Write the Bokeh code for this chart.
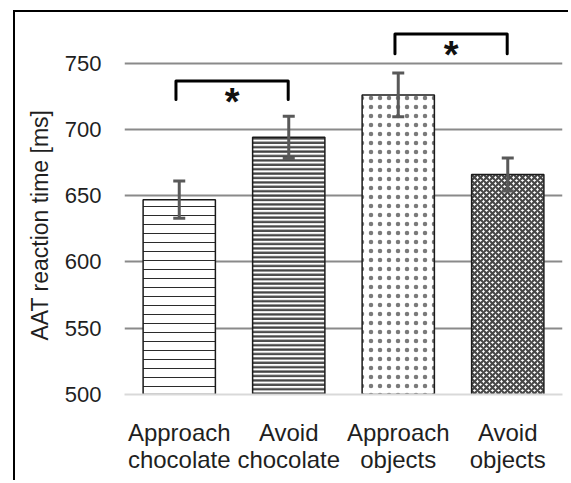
from bokeh.plotting import figure
from bokeh.models import (Range1d, FixedTicker, Whisker, TeeHead, ColumnDataSource, Title)
from bokeh.core.properties import value
from bokeh.embed import file_html
from bokeh.resources import INLINE

# ---------------- data ----------------
categories = ["Approach\nchocolate", "Avoid\nchocolate", "Approach\nobjects", "Avoid\nobjects"]
means = [647, 694, 726, 666]
errors = [14, 16, 16.5, 12.5]
y_ticks = [500, 550, 600, 650, 700, 750]
y_label = "AAT reaction time [ms]"
bracket_from = [0, 2]
bracket_to = [1, 3]
bracket_top = [736.5, 772]
bracket_bottom = [722.5, 757]
bracket_text = ["*", "*"]

FONT = "Liberation Sans"
TXT = "#1f1f1f"

bar_styles = [
    dict(hatch_pattern="horizontal_line", hatch_scale=9, hatch_weight=1, hatch_color="#2b2b2b"),
    dict(hatch_pattern="horizontal_line", hatch_scale=4.4, hatch_weight=2.3, hatch_color="#444444"),
    dict(hatch_pattern="dot", hatch_scale=9, hatch_weight=0.5, hatch_color="#7a7a7a"),
    dict(hatch_pattern="diagonal_cross", hatch_scale=6, hatch_weight=2.2, hatch_color="#474747"),
]

# ---------------- figure ----------------
# the figure's host element carries the chart-area border (left/top), canvas starts at (15, 12)
p = figure(width=555, height=470,
           x_range=Range1d(0.5, len(categories) + 0.5),
           y_range=Range1d(500, 786.7),
           output_backend="svg", toolbar_location=None,
           min_border_left=109, min_border_right=8, min_border_top=2, min_border_bottom=88)
p.styles = {"margin-left": "13px", "margin-top": "10px",
            "border-left": "2px solid #000000", "border-top": "2px solid #000000"}
p.outline_line_color = None
p.background_fill_color = "white"
p.border_fill_color = "white"

p.xgrid.visible = False
p.ygrid.ticker = FixedTicker(ticks=y_ticks[1:])
p.ygrid.grid_line_color = "#8a8a8a"
p.ygrid.grid_line_width = 2

p.yaxis.ticker = FixedTicker(ticks=y_ticks)
p.yaxis.axis_line_color = None
p.yaxis.major_tick_line_color = None
p.yaxis.minor_tick_line_color = None
p.yaxis.major_label_standoff = 17
p.yaxis.major_label_text_font = FONT
p.yaxis.major_label_text_font_size = "22px"
p.yaxis.major_label_text_color = TXT

xs = [i + 1 for i in range(len(categories))]
p.xaxis.ticker = FixedTicker(ticks=xs)
p.xaxis.major_label_overrides = {x: c for x, c in zip(xs, categories)}
p.xaxis.axis_line_color = "#d9d9d9"
p.xaxis.axis_line_width = 2
p.xaxis.major_tick_line_color = None
p.xaxis.minor_tick_line_color = None
p.xaxis.major_label_standoff = 18
p.xaxis.major_label_text_font = FONT
p.xaxis.major_label_text_font_size = "24px"
p.xaxis.major_label_text_line_height = 1.0
p.xaxis.major_label_text_color = TXT

# y-axis title (side title, bottom-aligned and shifted like the original)
p.add_layout(Title(text=y_label, align="left", offset=54, standoff=17,
                   text_font=FONT, text_font_size="23px", text_font_style="normal",
                   text_color=TXT), "left")

# bars
for x, m, st in zip(xs, means, bar_styles):
    p.vbar(x=[x], top=[m], bottom=y_ticks[0], width=0.66,
           fill_color="white", line_color="#1a1a1a", line_width=1.5, **st)

# error bars
src = ColumnDataSource(dict(x=xs,
                            upper=[m + e for m, e in zip(means, errors)],
                            lower=[m - e for m, e in zip(means, errors)]))
ecol = "#595959"
w = Whisker(base="x", upper="upper", lower="lower", source=src,
            line_color=ecol, line_width=3, level="annotation",
            upper_head=TeeHead(size=12, line_color=ecol, line_width=3),
            lower_head=TeeHead(size=12, line_color=ecol, line_width=3))
p.add_layout(w)

# significance brackets
bxs, bys, sx, sy = [], [], [], []
for a, b, t, bt in zip(bracket_from, bracket_to, bracket_top, bracket_bottom):
    xa, xb = xs[a] - 0.03, xs[b] - 0.005
    bxs.append([xa, xa, xb, xb])
    bys.append([bt, t, t, bt])
    sx.append((xa + xb) / 2)
    sy.append(t)
p.multi_line(xs=bxs, ys=bys, line_color="black", line_width=3, line_join="round", line_cap="round")
p.text(x=sx, y=sy, text=bracket_text, text_font=value(FONT), text_font_size="38px",
       text_font_style="bold", text_align="center", text_baseline="top", text_color="#111111")

open("out.html", "w").write(file_html(p, INLINE))
